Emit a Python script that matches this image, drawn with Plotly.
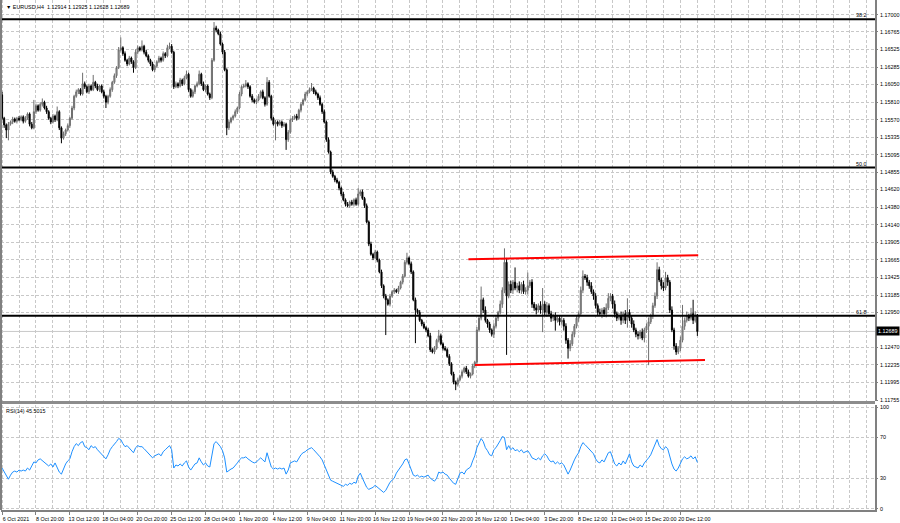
import plotly.graph_objects as go

# ---------------- data ----------------
symbol = "EURUSD,H4"
first_open = 1.1591

close = [
    1.1559, 1.1550, 1.1543, 1.1551, 1.1554, 1.1558, 1.1555, 1.1559, 1.1557, 1.1561,
    1.1555, 1.1559, 1.1565, 1.1551, 1.1546, 1.1568, 1.1576, 1.1570, 1.1578, 1.1581,
    1.1573, 1.1568, 1.1559, 1.1554, 1.1562, 1.1557, 1.1568, 1.1546, 1.1532, 1.1538,
    1.1543, 1.1549, 1.1559, 1.1573, 1.1589, 1.1595, 1.1598, 1.1592, 1.1606, 1.1602,
    1.1595, 1.1603, 1.1598, 1.1608, 1.1603, 1.1598, 1.1603, 1.1595, 1.1589, 1.1581,
    1.1589, 1.1598, 1.1608, 1.1617, 1.1628, 1.1652, 1.1655, 1.1647, 1.1638, 1.1633,
    1.1641, 1.1636, 1.1628, 1.1649, 1.1655, 1.1652, 1.1657, 1.1649, 1.1644, 1.1638,
    1.1633, 1.1625, 1.1630, 1.1636, 1.1641, 1.1638, 1.1647, 1.1644, 1.1655, 1.1657,
    1.1649, 1.1602, 1.1606, 1.1603, 1.1611, 1.1606, 1.1614, 1.1619, 1.1598, 1.1589,
    1.1595, 1.1603, 1.1606, 1.1619, 1.1606, 1.1598, 1.1603, 1.1592, 1.1587, 1.1638,
    1.1682, 1.1679, 1.1674, 1.1660, 1.1649, 1.1625, 1.1546, 1.1554, 1.1559, 1.1562,
    1.1568, 1.1573, 1.1592, 1.1602, 1.1603, 1.1606, 1.1602, 1.1589, 1.1584, 1.1581,
    1.1584, 1.1589, 1.1595, 1.1587, 1.1578, 1.1608, 1.1589, 1.1559, 1.1551, 1.1554,
    1.1551, 1.1554, 1.1549, 1.1551, 1.1530, 1.1540, 1.1557, 1.1559, 1.1562, 1.1559,
    1.1570, 1.1578, 1.1584, 1.1592, 1.1595, 1.1598, 1.1600, 1.1595, 1.1592, 1.1587,
    1.1578, 1.1568, 1.1554, 1.1530, 1.1513, 1.1486, 1.1480, 1.1475, 1.1472, 1.1464,
    1.1456, 1.1448, 1.1442, 1.1440, 1.1445, 1.1442, 1.1448, 1.1442, 1.1456, 1.1459,
    1.1450, 1.1440, 1.1418, 1.1388, 1.1374, 1.1369, 1.1377, 1.1366, 1.1350, 1.1331,
    1.1317, 1.1312, 1.1306, 1.1317, 1.1323, 1.1325, 1.1323, 1.1328, 1.1336, 1.1344,
    1.1363, 1.1369, 1.1361, 1.1350, 1.1312, 1.1298, 1.1295, 1.1284, 1.1279, 1.1274,
    1.1271, 1.1263, 1.1244, 1.1241, 1.1246, 1.1257, 1.1263, 1.1252, 1.1246, 1.1244,
    1.1235, 1.1225, 1.1211, 1.1200, 1.1197, 1.1203, 1.1208, 1.1214, 1.1219, 1.1214,
    1.1208, 1.1211, 1.1222, 1.1227, 1.1271, 1.1287, 1.1312, 1.1298, 1.1284, 1.1279,
    1.1271, 1.1265, 1.1276, 1.1287, 1.1295, 1.1306, 1.1325, 1.1363, 1.1317, 1.1333,
    1.1325, 1.1336, 1.1328, 1.1331, 1.1325, 1.1333, 1.1323, 1.1325, 1.1331, 1.1336,
    1.1306, 1.1301, 1.1298, 1.1304, 1.1298, 1.1306, 1.1295, 1.1304, 1.1293, 1.1287,
    1.1290, 1.1284, 1.1287, 1.1282, 1.1284, 1.1276, 1.1257, 1.1246, 1.1252, 1.1265,
    1.1276, 1.1287, 1.1293, 1.1325, 1.1344, 1.1342, 1.1336, 1.1331, 1.1323, 1.1317,
    1.1304, 1.1295, 1.1293, 1.1298, 1.1293, 1.1301, 1.1314, 1.1317, 1.1306, 1.1293,
    1.1287, 1.1290, 1.1284, 1.1293, 1.1284, 1.1295, 1.1287, 1.1279, 1.1271, 1.1265,
    1.1263, 1.1268, 1.1260, 1.1271, 1.1276, 1.1282, 1.1290, 1.1304, 1.1317, 1.1353,
    1.1339, 1.1331, 1.1328, 1.1342, 1.1336, 1.1298, 1.1271, 1.1249, 1.1241, 1.1246,
    1.1257, 1.1276, 1.1284, 1.1290, 1.1287, 1.1293, 1.1284, 1.12914, 1.12689,
]

# wick lengths in pips above the body / below the body
wick_up_pips = [
    4, 2, 2, 3, 2, 3, 2, 2, 3, 2,
    2, 3, 2, 2, 3, 16, 3, 2, 3, 5,
    2, 3, 2, 2, 3, 2, 7, 2, 2, 3,
    2, 3, 2, 3, 2, 3, 2, 2, 15, 3,
    2, 3, 2, 10, 2, 3, 2, 2, 3, 2,
    2, 3, 2, 3, 2, 4, 14, 2, 3, 2,
    3, 2, 2, 4, 3, 2, 8, 2, 3, 2,
    2, 3, 2, 2, 3, 2, 3, 2, 4, 5,
    3, 2, 3, 2, 3, 2, 3, 5, 2, 2,
    3, 2, 3, 5, 2, 3, 2, 2, 2, 3,
    8, 3, 2, 3, 2, 3, 2, 3, 2, 2,
    3, 2, 3, 2, 3, 5, 2, 2, 3, 2,
    2, 3, 2, 3, 2, 7, 3, 2, 2, 3,
    2, 3, 2, 3, 2, 3, 2, 3, 2, 3,
    2, 3, 2, 3, 2, 3, 7, 2, 3, 2,
    3, 2, 3, 2, 3, 2, 3, 2, 3, 2,
    2, 3, 2, 3, 2, 3, 2, 3, 8, 3,
    3, 2, 3, 2, 3, 2, 3, 2, 2, 3,
    2, 3, 2, 3, 2, 3, 2, 3, 2, 3,
    3, 7, 2, 3, 2, 3, 2, 3, 2, 3,
    2, 3, 4, 2, 3, 2, 8, 3, 2, 3,
    2, 3, 2, 3, 2, 3, 2, 3, 2, 3,
    3, 2, 3, 2, 4, 3, 18, 3, 5, 2,
    3, 2, 4, 3, 2, 5, 4, 19, 6, 4,
    5, 3, 20, 4, 6, 3, 5, 4, 18, 3,
    4, 3, 5, 3, 6, 22, 4, 5, 3, 4,
    3, 5, 4, 3, 6, 3, 4, 3, 5, 4,
    3, 4, 3, 5, 8, 3, 4, 3, 5, 3,
    4, 3, 5, 3, 4, 6, 7, 4, 3, 5,
    3, 4, 6, 3, 5, 19, 4, 3, 5, 3,
    4, 3, 5, 3, 4, 6, 3, 4, 5, 10,
    4, 3, 5, 8, 4, 3, 5, 3, 4, 3,
    5, 29, 4, 6, 3, 8, 19, 5, 1.1,
]
wick_dn_pips = [
    2, 4, 11, 14, 2, 3, 2, 3, 2, 2,
    3, 2, 2, 3, 2, 2, 3, 2, 2, 3,
    2, 3, 2, 3, 2, 3, 2, 3, 7, 2,
    3, 2, 3, 2, 3, 2, 3, 2, 2, 3,
    2, 3, 2, 2, 3, 2, 3, 2, 3, 8,
    3, 2, 3, 2, 3, 2, 2, 3, 2, 3,
    2, 3, 7, 2, 3, 2, 2, 3, 2, 3,
    3, 2, 3, 2, 2, 3, 2, 3, 2, 2,
    2, 3, 2, 3, 2, 3, 2, 2, 3, 2,
    2, 3, 2, 2, 3, 2, 3, 2, 3, 2,
    2, 3, 2, 2, 3, 2, 10, 3, 2, 3,
    2, 3, 2, 3, 2, 2, 3, 2, 3, 2,
    3, 2, 3, 2, 3, 2, 2, 3, 2, 22,
    3, 2, 3, 2, 14, 3, 2, 3, 2, 3,
    2, 3, 2, 2, 3, 2, 2, 3, 2, 3,
    2, 3, 2, 3, 2, 3, 2, 3, 2, 3,
    3, 2, 3, 2, 3, 2, 3, 2, 2, 3,
    2, 3, 2, 3, 2, 3, 2, 3, 2, 3,
    3, 48, 2, 3, 2, 3, 2, 3, 2, 3,
    2, 3, 2, 3, 2, 45, 3, 2, 3, 2,
    3, 2, 3, 2, 3, 2, 3, 2, 3, 2,
    2, 3, 2, 3, 8, 3, 2, 3, 2, 3,
    2, 3, 2, 3, 3, 2, 3, 4, 3, 5,
    4, 3, 5, 3, 4, 3, 5, 4, 80, 3,
    4, 5, 3, 6, 4, 5, 3, 4, 6, 3,
    5, 4, 6, 3, 5, 30, 4, 6, 3, 5,
    4, 14, 3, 5, 4, 6, 5, 14, 4, 3,
    4, 3, 5, 3, 4, 3, 5, 4, 3, 5,
    4, 5, 3, 6, 4, 5, 3, 4, 6, 5,
    4, 3, 6, 4, 5, 10, 4, 5, 3, 4,
    5, 4, 3, 6, 4, 53, 3, 4, 3, 4,
    3, 5, 4, 3, 5, 4, 3, 5, 4, 3,
    4, 3, 5, 3, 4, 3, 5, 3, 6.1,
]

rsi = [
    40, 36, 32, 29, 33, 36, 37, 36, 38, 37,
    38, 37, 40, 38, 42, 46, 45, 48, 49, 47,
    45, 44, 42, 44, 41, 45, 40, 36, 34, 40,
    44, 47, 49, 56, 61, 64, 62, 65, 66, 61,
    60, 58, 62, 60, 61, 58, 56, 54, 51, 49,
    53, 58, 61, 63, 66, 69, 68, 64, 61, 62,
    60, 57, 55, 60, 62, 61, 61, 59, 57, 55,
    52, 50, 52, 53, 54, 52, 56, 58, 60, 62,
    58, 40, 43, 42, 44, 42, 45, 47, 41, 38,
    41, 44, 45, 50, 46, 43, 45, 42, 41, 55,
    64, 66, 64, 61, 57, 50, 36, 38, 39, 40,
    42, 45, 48, 50, 50, 51, 49, 47, 46, 45,
    46, 48, 50, 48, 46, 55, 48, 41, 39, 40,
    39, 40, 39, 40, 34, 38, 45, 46, 47, 46,
    50, 53, 55, 56, 58, 59, 60, 58, 56, 54,
    51, 48, 43, 37, 33, 28, 27, 26, 25, 24,
    23, 22, 24, 23, 25, 24, 26, 25, 32, 35,
    30, 26, 21, 19, 20, 21, 23, 21, 19, 18,
    16, 18, 22, 26, 28, 30, 35, 38, 40, 44,
    48, 49, 44, 38, 33, 32, 33, 31, 32, 31,
    32, 33, 30, 28, 27, 30, 36, 35, 36, 34,
    33, 30, 27, 25, 24, 30, 35, 36, 34, 38,
    40, 41, 47, 52, 60, 65, 69, 66, 60, 57,
    53, 52, 58, 60, 63, 67, 71, 70, 58, 62,
    58, 60, 57, 58, 56, 58, 55, 56, 57, 54,
    50, 49, 48, 50, 48, 52, 54, 52, 48, 46,
    47, 44, 46, 44, 45, 43, 38, 34, 38, 44,
    48, 52, 55, 61, 65, 63, 61, 59, 56, 54,
    49, 46, 45, 48, 46, 50, 55, 56, 50, 44,
    42, 45, 43, 47, 44, 49, 54, 46, 42, 41,
    40, 43, 41, 45, 47, 50, 53, 58, 62, 68,
    62, 59, 58, 61, 59, 50, 44, 39, 37, 40,
    44, 49, 51, 49, 50, 52, 49, 51, 45.5015,
]

price_tick_labels = ["1.17000", "1.16765", "1.16525", "1.16285", "1.16050", "1.15810",
                     "1.15570", "1.15335", "1.15095", "1.14855", "1.14620", "1.14380",
                     "1.14140", "1.13905", "1.13665", "1.13425", "1.13185", "1.12950",
                     "1.12470", "1.12235", "1.11995", "1.11755"]
time_tick_labels = ["6 Oct 2021", "8 Oct 20:00", "13 Oct 12:00", "18 Oct 04:00",
                    "20 Oct 20:00", "25 Oct 12:00", "28 Oct 04:00", "1 Nov 20:00",
                    "4 Nov 12:00", "9 Nov 04:00", "11 Nov 20:00", "16 Nov 12:00",
                    "19 Nov 04:00", "23 Nov 20:00", "26 Nov 12:00", "1 Dec 04:00",
                    "3 Dec 20:00", "8 Dec 12:00", "13 Dec 04:00", "15 Dec 20:00",
                    "20 Dec 12:00"]
bars_per_time_label = 16
bars_per_grid = 8
rsi_ticks = [0, 30, 70, 100]

fib_levels = [1.16937, 1.14920, 1.12903]
fib_names = ["38.2", "50.0", "61.8"]
channel_top_bars = [220, 328.4]
channel_top_prices = [1.13671, 1.13725]
channel_bot_bars = [223.1, 331.6]
channel_bot_prices = [1.12232, 1.12300]

# ---------------- derived series ----------------
n = len(close)
bars = list(range(n))
open_ = [first_open] + close[:-1]
high = [max(o, c) + u * 1e-4 for o, c, u in zip(open_, close, wick_up_pips)]
low = [min(o, c) - d * 1e-4 for o, c, d in zip(open_, close, wick_dn_pips)]

time_tick_bars = [i * bars_per_time_label for i in range(len(time_tick_labels))]
grid_bars = list(range(0, 420, bars_per_grid))
price_ticks = [float(t) for t in price_tick_labels]

# ---------------- layout geometry (pixels) ----------------
W, H = 900, 523
ML, MR, MT, MB = 1, 25, 0, 13
PH = H - MT - MB  # plot height in px
def py(pix):  # pixel y (from top) -> paper y
    return (PH - (pix - MT)) / PH

main_top, main_bot = 0, 401
rsi_top, rsi_bot = 405, 510

GRID = "#c8c8c8"
FONT = "Liberation Sans"
FS = 5.4

fig = go.Figure()

fig.add_trace(go.Candlestick(
    x=bars, open=open_, high=high, low=low, close=close,
    xaxis="x", yaxis="y",
    increasing=dict(line=dict(color="#6e6e6e", width=1), fillcolor="#a6a6a6"),
    decreasing=dict(line=dict(color="#000000", width=1), fillcolor="#000000"),
    whiskerwidth=0, hoverinfo="skip", showlegend=False,
))

fig.add_trace(go.Scatter(x=channel_top_bars, y=channel_top_prices, mode="lines",
                         line=dict(color="#ff0000", width=2), xaxis="x", yaxis="y",
                         hoverinfo="skip", showlegend=False))
fig.add_trace(go.Scatter(x=channel_bot_bars, y=channel_bot_prices, mode="lines",
                         line=dict(color="#ff0000", width=2), xaxis="x", yaxis="y",
                         hoverinfo="skip", showlegend=False))

fig.add_trace(go.Scatter(x=bars, y=rsi, mode="lines",
                         line=dict(color="#1e90ff", width=1), xaxis="x", yaxis="y2",
                         hoverinfo="skip", showlegend=False))

shapes = []
for lvl in fib_levels:
    shapes.append(dict(type="line", xref="paper", yref="y", x0=0, x1=1, y0=lvl, y1=lvl,
                       line=dict(color="#000000", width=2), layer="above"))
shapes.append(dict(type="line", xref="paper", yref="y", x0=0, x1=1, y0=close[-1], y1=close[-1],
                   line=dict(color="#c8c8c8", width=1), layer="below"))
shapes.append(dict(type="rect", xref="paper", yref="paper", x0=0, x1=1,
                   y0=py(404), y1=py(401), fillcolor="#8c8c8c", line=dict(width=0), layer="above"))
shapes.append(dict(type="line", xref="paper", yref="paper", x0=0, x1=0, y0=0, y1=1,
                   line=dict(color="#808080", width=2), layer="above"))

annotations = []
for lvl, name in zip(fib_levels, fib_names):
    annotations.append(dict(xref="paper", yref="y", x=0.993, y=lvl, text=name,
                            showarrow=False, xanchor="right", yanchor="bottom",
                            font=dict(family=FONT, size=FS, color="#000000"), yshift=-1))
annotations.append(dict(xref="paper", yref="paper", x=0.004, y=py(2), xanchor="left",
                        yanchor="top", showarrow=False,
                        text=f"▼ {symbol}  {open_[-1]:.5f} {high[-1]:.5f} {low[-1]:.5f} {close[-1]:.5f}",
                        font=dict(family=FONT, size=FS, color="#000000")))
annotations.append(dict(xref="paper", yref="paper", x=0.004, y=py(406), xanchor="left",
                        yanchor="top", showarrow=False,
                        text=f"RSI(14) {rsi[-1]:.4f}",
                        font=dict(family=FONT, size=FS, color="#000000")))
annotations.append(dict(xref="paper", yref="y", x=1.0012, y=close[-1], xanchor="left",
                        yanchor="middle", showarrow=False, text=f"{close[-1]:.5f}",
                        bgcolor="#000000", borderpad=1,
                        font=dict(family=FONT, size=FS, color="#ffffff")))

fig.update_layout(
    width=W, height=H,
    margin=dict(l=ML, r=MR, t=MT, b=MB, pad=0, autoexpand=False),
    paper_bgcolor="#ffffff", plot_bgcolor="#ffffff",
    showlegend=False,
    font=dict(family=FONT, size=FS, color="#000000"),
    xaxis=dict(
        domain=[0, 1], anchor="y2", range=[-0.5, 411.8], automargin=False,
        tickmode="array", tickvals=time_tick_bars, ticktext=time_tick_labels,
        tickangle=0, ticks="outside", ticklen=3, tickcolor="#808080", ticklabelshift=14,
        ticklabelstandoff=0,
        tickfont=dict(family=FONT, size=FS, color="#000000"),
        showgrid=False, zeroline=False,
        minor=dict(tickvals=grid_bars, showgrid=True, gridcolor=GRID, griddash="3px,2px",
                   gridwidth=1, ticks=""),
        showline=True, linecolor="#808080", linewidth=2,
        rangeslider=dict(visible=False), fixedrange=True,
    ),
    yaxis=dict(
        domain=[py(main_bot), py(main_top)], anchor="x", side="right", automargin=False,
        range=[1.1720 - 0.0001361 * main_bot, 1.1720 - 0.0001361 * main_top],
        tickmode="array", tickvals=price_ticks, ticktext=price_tick_labels,
        ticks="outside", ticklen=1, tickcolor="#808080", ticklabelstandoff=1,
        tickfont=dict(family=FONT, size=FS, color="#000000"),
        showgrid=True, gridcolor=GRID, griddash="3px,2px", gridwidth=1,
        zeroline=False, showline=True, linecolor="#808080", linewidth=2,
    ),
    yaxis2=dict(
        domain=[py(rsi_bot), py(rsi_top)], anchor="x", side="right", automargin=False,
        range=[(508.7 - rsi_bot) / 1.017, (508.7 - rsi_top) / 1.017],
        tickmode="array", tickvals=rsi_ticks, ticktext=[str(t) for t in rsi_ticks],
        ticks="outside", ticklen=1, tickcolor="#808080", ticklabelstandoff=1,
        tickfont=dict(family=FONT, size=FS, color="#000000"),
        showgrid=True, gridcolor=GRID, griddash="3px,2px", gridwidth=1,
        zeroline=False, showline=True, linecolor="#808080", linewidth=2,
    ),
    shapes=shapes,
    annotations=annotations,
)

fig.write_html("out.html",
               config={"displayModeBar": False, "staticPlot": True},
               post_script="document.body.style.margin='0';document.body.style.padding='0';")
